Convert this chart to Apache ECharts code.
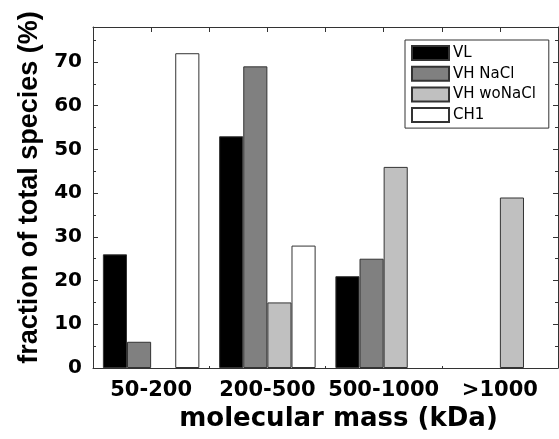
<!DOCTYPE html>
<html><head><meta charset="utf-8">
<script src="https://cdn.jsdelivr.net/npm/echarts@6/dist/echarts.min.js"></script>
<style>html,body{margin:0;padding:0;background:#fff}#c{width:559px;height:439px}</style>
</head><body><div id="c"></div>
<script>
var categories = ['50-200', '200-500', '500-1000', '>1000'];
var seriesNames = ['VL', 'VH NaCl', 'VH woNaCl', 'CH1'];
var vl = [26, 53, 21, 0];
var vhNaCl = [6, 69, 25, 0];
var vhWoNaCl = [0, 15, 46, 39];
var ch1 = [72, 28, 0, 0];
var yTicks = [0, 10, 20, 30, 40, 50, 60, 70];

var values = [vl, vhNaCl, vhWoNaCl, ch1];
var colors = ['#000000', '#808080', '#c0c0c0', '#ffffff'];
var axisCol = '#333';
var chart = echarts.init(document.getElementById('c'));
chart.setOption({
  animation: false,
  backgroundColor: '#fff',
  grid: {left: 93, right: 1, top: 27, bottom: 71},
  legend: {
    orient: 'vertical', left: 405, top: 40,
    padding: [5, 13, 5, 6],
    itemWidth: 37, itemHeight: 14, itemGap: 4.7,
    borderColor: axisCol, borderWidth: 1,
    icon: 'rect',
    textStyle: {fontFamily: 'DejaVu Sans', fontSize: 15, lineHeight: 16, color: '#000', padding: [0, 0, 0, -1]},
    data: seriesNames
  },
  xAxis: [{
    type: 'category', data: categories,
    axisLine: {lineStyle: {color: axisCol, width: 1}},
    axisTick: {show: true, inside: true, length: 2, lineStyle: {color: axisCol}},
    axisLabel: {interval: 0, fontFamily: 'DejaVu Sans', fontWeight: 'bold', fontSize: 21, color: '#000', margin: 12},
    name: 'molecular mass (kDa)', nameLocation: 'middle', nameGap: 38,
    nameTextStyle: {fontFamily: 'DejaVu Sans', fontWeight: 'bold', fontSize: 26, color: '#000', padding: [0, 0, 0, 26]}
  }, {
    type: 'value', position: 'top', min: -0.5, max: 3.5, interval: 0.5,
    axisLine: {show: true, onZero: false, lineStyle: {color: axisCol}},
    axisTick: {show: true, inside: true, length: 5, lineStyle: {color: axisCol}},
    axisLabel: {show: false}, splitLine: {show: false}
  }],
  yAxis: [{
    type: 'value', min: 0, max: 78, interval: 10,
    axisLine: {show: true, onZero: false, lineStyle: {color: axisCol}},
    axisTick: {show: true, inside: true, length: 5, lineStyle: {color: axisCol}},
    minorTick: {show: true, splitNumber: 2, length: 3, lineStyle: {color: axisCol}},
    splitLine: {show: false},
    axisLabel: {showMaxLabel: false, fontFamily: 'DejaVu Sans', fontWeight: 'bold', fontSize: 20, color: '#000', margin: 11,
      formatter: function (v) { return yTicks.indexOf(v) >= 0 ? String(v) : ''; }},
    name: 'fraction of total species (%)', nameLocation: 'middle', nameGap: 50,
    nameTextStyle: {fontFamily: 'Liberation Sans', fontWeight: 'bold', fontSize: 27, color: '#000', padding: [0, 0, 0, 20]}
  }, {
    type: 'value', position: 'right', min: 0, max: 78, interval: 10,
    axisLine: {show: true, onZero: false, lineStyle: {color: axisCol}},
    axisTick: {show: true, inside: true, length: 5, lineStyle: {color: axisCol}},
    minorTick: {show: true, splitNumber: 2, length: 3, lineStyle: {color: axisCol}},
    splitLine: {show: false}, axisLabel: {show: false}
  }],
  series: seriesNames.map(function (n, i) {
    return {
      name: n, type: 'bar', xAxisIndex: 0, yAxisIndex: 0,
      data: values[i].map(function (v) { return v === 0 ? null : v; }),
      barGap: '0%', barCategoryGap: '17%',
      itemStyle: {color: colors[i], borderColor: axisCol, borderWidth: 1}
    };
  })
});
</script></body></html>
